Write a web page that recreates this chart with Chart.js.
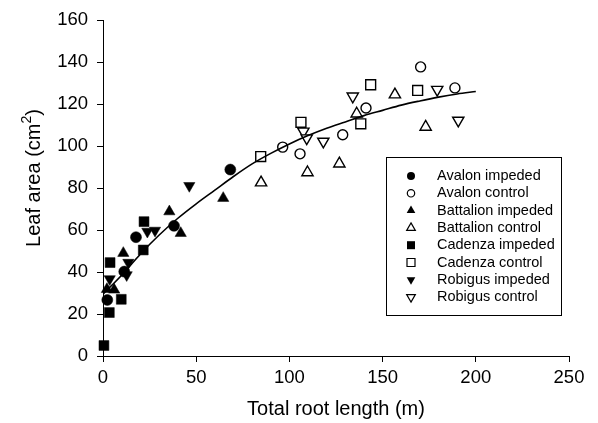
<!DOCTYPE html>
<html>
<head>
<meta charset="utf-8">
<script src="https://cdn.jsdelivr.net/npm/chart.js@4/dist/chart.umd.min.js"></script>
<style>
  html, body { margin: 0; padding: 0; background: #fff; }
  #c { display: block; }
</style>
</head>
<body>
<canvas id="c" width="598" height="423"></canvas>
<script>
// ---- data ----
const avalonImpX = [2.3, 11.4, 17.7, 38.1, 68.3];
const avalonImpY = [26.7, 40.2, 56.6, 62.0, 88.8];
const avalonConX = [96.4, 105.7, 128.6, 141.1, 170.4, 188.8];
const avalonConY = [99.5, 96.3, 105.4, 118.1, 137.7, 127.7];
const battImpX = [2.1, 6.0, 10.9, 35.6, 41.7, 64.5];
const battImpY = [31.8, 31.5, 49.0, 68.8, 58.5, 75.2];
const battConX = [84.8, 109.7, 126.8, 136.1, 156.6, 173.1];
const battConY = [82.6, 87.4, 91.6, 115.4, 124.5, 109.1];
const cadImpX = [0.5, 3.4, 9.8, 3.8, 21.6, 22.0];
const cadImpY = [5.0, 20.7, 27.0, 44.5, 50.5, 64.0];
const cadConX = [84.6, 106.2, 138.3, 143.6, 168.8];
const cadConY = [95.0, 111.3, 110.6, 129.2, 126.5];
const robImpX = [3.6, 12.7, 13.6, 23.8, 27.9, 46.3];
const robImpY = [36.7, 38.6, 44.5, 59.3, 59.8, 81.1];
const robConX = [107.5, 109.3, 118.2, 134.0, 179.3, 190.6];
const robConY = [107.0, 103.8, 102.2, 123.7, 126.9, 112.2];
// fitted curve
const fitX = [0, 10, 20, 30, 40, 50, 60, 70, 80, 90, 100, 110, 120, 130, 140, 150, 160, 170, 180, 190, 200];
const fitY = [29.5, 38.5, 48.5, 57.5, 65.5, 72.5, 79, 85.5, 91.5, 96.5, 101, 105, 108.5, 111.5, 114.5, 117, 119.5, 121.5, 123.3, 124.8, 126];
const xTicks = [0, 50, 100, 150, 200, 250];
const yTicks = [0, 20, 40, 60, 80, 100, 120, 140, 160];
const seriesLabels = ['Avalon impeded', 'Avalon control', 'Battalion impeded', 'Battalion control',
                      'Cadenza impeded', 'Cadenza control', 'Robigus impeded', 'Robigus control'];
const yTitleMain = 'Leaf area (cm';
const yTitleSup = '2';
const yTitleEnd = ')';
const xTitle = 'Total root length (m)';

const FONT = '"Liberation Sans", Arial, Helvetica, sans-serif';
const pts = (xs, ys) => xs.map((x, i) => ({x: x, y: ys[i]}));

// style per series: [pointStyle, rotation, filled, radius]
const styles = [
  ['circle', 0, true, 5.5],
  ['circle', 0, false, 5],
  ['triangle', 0, true, 6.5],
  ['triangle', 0, false, 6.5],
  ['rect', 0, true, 7],
  ['rect', 0, false, 7],
  ['triangle', 180, true, 6.5],
  ['triangle', 180, false, 6.5]
];
const seriesData = [
  pts(avalonImpX, avalonImpY), pts(avalonConX, avalonConY),
  pts(battImpX, battImpY), pts(battConX, battConY),
  pts(cadImpX, cadImpY), pts(cadConX, cadConY),
  pts(robImpX, robImpY), pts(robConX, robConY)
];

const datasets = [{
  type: 'line',
  label: 'fit',
  data: pts(fitX, fitY),
  borderColor: '#000',
  borderWidth: 1.6,
  pointRadius: 0,
  fill: false,
  cubicInterpolationMode: 'monotone',
  order: 0
}];
seriesData.forEach((d, i) => {
  const s = styles[i];
  datasets.push({
    type: 'scatter',
    label: seriesLabels[i],
    data: d,
    pointStyle: s[0],
    rotation: s[1],
    pointRadius: s[3],
    pointHoverRadius: s[3],
    backgroundColor: s[2] ? '#000' : '#fff',
    borderColor: '#000',
    pointBorderWidth: s[2] ? 0.5 : 1.4,
    borderWidth: s[2] ? 0.5 : 1.4,
    clip: false,
    order: 1
  });
});

const extras = {
  id: 'extras',
  afterDraw(chart) {
    const ctx = chart.ctx;
    ctx.save();
    // y-axis title with superscript
    const area = chart.chartArea;
    ctx.fillStyle = '#000';
    ctx.textBaseline = 'alphabetic';
    ctx.font = '20px ' + FONT;
    const w1 = ctx.measureText(yTitleMain).width;
    const w3 = ctx.measureText(yTitleEnd).width;
    ctx.font = '14px ' + FONT;
    const w2 = ctx.measureText(yTitleSup).width;
    const total = w1 + w2 + w3;
    ctx.translate(40, 178);
    ctx.rotate(-Math.PI / 2);
    let x0 = -total / 2;
    ctx.textAlign = 'left';
    ctx.font = '20px ' + FONT;
    ctx.fillText(yTitleMain, x0, 0);
    ctx.font = '14px ' + FONT;
    ctx.fillText(yTitleSup, x0 + w1, -9);
    ctx.font = '20px ' + FONT;
    ctx.fillText(yTitleEnd, x0 + w1 + w2, 0);
    ctx.restore();

    // legend box
    ctx.save();
    ctx.strokeStyle = '#000';
    ctx.lineWidth = 1;
    ctx.strokeRect(386.5, 157.5, 175, 158);
    ctx.font = '14.5px ' + FONT;
    ctx.fillStyle = '#000';
    ctx.textBaseline = 'middle';
    ctx.textAlign = 'left';
    const lr = [4, 3.7, 5, 5, 4, 4, 5, 5];
    seriesLabels.forEach((lab, i) => {
      const y = 176 + i * 17.3;
      const x = 411;
      const s = styles[i];
      const r = lr[i];
      ctx.beginPath();
      if (s[0] === 'circle') {
        ctx.arc(x, y, r, 0, Math.PI * 2);
      } else if (s[0] === 'rect') {
        ctx.rect(x - r, y - r, 2 * r, 2 * r);
      } else {
        const dir = s[1] === 180 ? -1 : 1;
        ctx.moveTo(x, y - dir * r);
        ctx.lineTo(x + r * 0.866, y + dir * r * 0.5);
        ctx.lineTo(x - r * 0.866, y + dir * r * 0.5);
        ctx.closePath();
      }
      if (s[2]) { ctx.fillStyle = '#000'; ctx.fill(); }
      else { ctx.fillStyle = '#fff'; ctx.fill(); ctx.lineWidth = 1.2; ctx.strokeStyle = '#000'; ctx.stroke(); }
      ctx.fillStyle = '#000';
      ctx.fillText(lab, 437, y);
    });
    ctx.restore();
  }
};

new Chart(document.getElementById('c'), {
  type: 'scatter',
  data: { datasets: datasets },
  plugins: [extras],
  options: {
    responsive: false,
    animation: false,
    devicePixelRatio: 1,
    layout: { padding: { left: 0, right: 29, top: 20, bottom: 0 } },
    plugins: { legend: { display: false }, tooltip: { enabled: false } },
    scales: {
      x: {
        type: 'linear',
        min: 0, max: 250,
        afterFit(scale) { scale.height = 67; },
        afterBuildTicks(scale) { scale.ticks = xTicks.map(v => ({value: v})); },
        ticks: { color: '#000', font: { family: FONT, size: 18.5 }, padding: 5, maxRotation: 0 },
        grid: { drawOnChartArea: false, drawTicks: true, tickLength: 6, color: '#000', lineWidth: 1 },
        border: { display: true, color: '#000', width: 1 },
        title: { display: true, text: xTitle, color: '#000',
                 font: { family: FONT, size: 20 }, padding: { top: 0, bottom: 2 } }
      },
      y: {
        type: 'linear',
        min: 0, max: 160,
        afterFit(scale) { scale.width = 103; },
        afterBuildTicks(scale) { scale.ticks = yTicks.map(v => ({value: v})); },
        ticks: { color: '#000', font: { family: FONT, size: 18.5 }, padding: 9 },
        grid: { drawOnChartArea: false, drawTicks: true, tickLength: 6, color: '#000', lineWidth: 1 },
        border: { display: true, color: '#000', width: 1 },
        title: { display: false }
      }
    }
  }
});
</script>
</body>
</html>
